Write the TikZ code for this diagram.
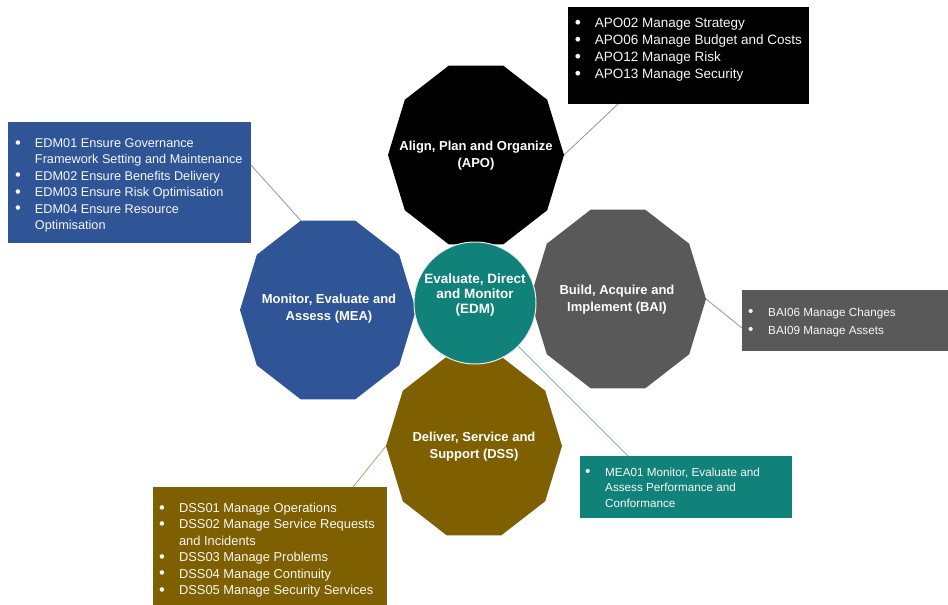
\documentclass[tikz,border=0pt]{standalone}
\usepackage{fontspec}
\setmainfont{Liberation Sans}
\usetikzlibrary{calc}

\definecolor{apoblack}{RGB}{0,0,0}
\definecolor{baigrey}{RGB}{89,89,89}
\definecolor{dssbrown}{RGB}{127,96,0}
\definecolor{meablue}{RGB}{47,85,151}
\definecolor{edmteal}{RGB}{17,130,122}
\definecolor{linkgrey}{RGB}{150,150,150}
\definecolor{linktan}{RGB}{185,160,105}
\definecolor{linkteal}{RGB}{115,182,174}

% bullet column of the process lists
\newcommand\bul{\makebox[20pt][l]{\raisebox{-0.5pt}{\scalebox{1.3}{\textbullet}}}}
\newcommand\cont{\hspace*{20pt}}

% decagon of one COBIT domain: centre x, centre y, fill colour
\newcommand\domaindecagon[3]{%
  \begin{scope}[shift={(#1,#2)}]
    \fill[#3] (0:88 and 94) \foreach \a in {36,72,...,324}{ -- (\a:88 and 94)} -- cycle;
  \end{scope}}

\tikzset{
  domainlabel/.style={text=white, align=center, inner sep=0pt,
    font=\bfseries\fontsize{13}{17}\selectfont},
  listbox/.style={fill=#1, anchor=north west, inner sep=0pt, outer sep=0pt},
  listtext/.style={text=white!94!gray, anchor=base west, inner sep=0pt},
  link/.style={line width=0.8pt, draw=#1},
}

\begin{document}
\begin{tikzpicture}[x=1pt, y=-1pt]
  \useasboundingbox (0,0) rectangle (948,605);
  \fill[white] (0,0) rectangle (948,605);

  % vertices where the connectors meet the decagons
  \coordinate (apo-east) at (564,155);
  \coordinate (bai-east) at (706,299);
  \coordinate (mea-nw)   at ($(328,310)+(252:88 and 94)$);
  \coordinate (dss-west) at (386,446);

  % process lists
  \node[listbox=apoblack, minimum width=241pt, minimum height=97pt] (apobox) at (568,7) {};
  \node[listbox=meablue, minimum width=243pt, minimum height=121pt] (edmbox) at (8,122) {};
  \node[listbox=baigrey, minimum width=206pt, minimum height=61pt] (baibox) at (742,290) {};
  \node[listbox=dssbrown, minimum width=234pt, minimum height=118pt] (dssbox) at (153,487) {};
  \node[listbox=edmteal, minimum width=212pt, minimum height=62pt] (meabox) at (580,456) {};

  % connectors
  \draw[link=linkgrey] ([xshift=50pt]apobox.south west) -- (apo-east);
  \draw[link=linkgrey] ([yshift=-43pt]edmbox.north east) -- (mea-nw);
  \draw[link=linkgrey] (bai-east) -- ([yshift=-38pt]baibox.north west);
  \draw[link=linktan] ([xshift=200pt]dssbox.north west) -- (dss-west);

  % domains
  \domaindecagon{476}{155}{apoblack}
  \domaindecagon{618}{299}{baigrey}
  \domaindecagon{328}{310}{meablue}
  \domaindecagon{474}{446}{dssbrown}

  \node[domainlabel] (apo) at (476,156) {Align, Plan and Organize\\(APO)};
  \node[domainlabel] (bai) at (617,300) {Build, Acquire and\\Implement (BAI)};
  \node[domainlabel] (mea) at (329,309) {Monitor, Evaluate and\\Assess (MEA)};
  \node[domainlabel] (dss) at (474,447) {Deliver, Service and\\Support (DSS)};

  % governance core
  \node[circle, fill=edmteal, draw=white!85!gray, line width=1pt,
        minimum size=122pt, inner sep=0pt] (edm) at (475,303) {};
  \node[domainlabel, font=\bfseries\fontsize{13.5}{14.7}\selectfont] (edmlabel) at (475,295)
    {Evaluate, Direct\\and Monitor\\(EDM)};
  \draw[link=linkteal] (edm.-45) -- ([xshift=48pt]meabox.north west);

  % list texts
  \node[listtext, font=\fontsize{13.5}{17}\selectfont] (apolist) at (574.6,27.5) {%
    \begin{tabular}[t]{@{}l@{}}
      \bul APO02 Manage Strategy\\
      \bul APO06 Manage Budget and Costs\\
      \bul APO12 Manage Risk\\
      \bul APO13 Manage Security
    \end{tabular}};
  \node[listtext, font=\fontsize{12.7}{16.4}\selectfont] (edmlist) at (14.8,147.5) {%
    \begin{tabular}[t]{@{}l@{}}
      \bul EDM01 Ensure Governance\\
      \cont Framework Setting and Maintenance\\
      \bul EDM02 Ensure Benefits Delivery\\
      \bul EDM03 Ensure Risk Optimisation\\
      \bul EDM04 Ensure Resource\\
      \cont Optimisation
    \end{tabular}};
  \node[listtext, font=\fontsize{11.7}{18}\selectfont] (bailist) at (748,316) {%
    \begin{tabular}[t]{@{}l@{}}
      \bul BAI06 Manage Changes\\
      \bul BAI09 Manage Assets
    \end{tabular}};
  \node[listtext, font=\fontsize{12.9}{16.4}\selectfont] (dsslist) at (158.8,512.5) {%
    \begin{tabular}[t]{@{}l@{}}
      \bul DSS01 Manage Operations\\
      \bul DSS02 Manage Service Requests\\
      \cont and Incidents\\
      \bul DSS03 Manage Problems\\
      \bul DSS04 Manage Continuity\\
      \bul DSS05 Manage Security Services
    \end{tabular}};
  \node[listtext, font=\fontsize{11.7}{15.5}\selectfont] (mealist) at (585,476) {%
    \begin{tabular}[t]{@{}l@{}}
      \bul MEA01 Monitor, Evaluate and\\
      \cont Assess Performance and\\
      \cont Conformance
    \end{tabular}};
\end{tikzpicture}
\end{document}
